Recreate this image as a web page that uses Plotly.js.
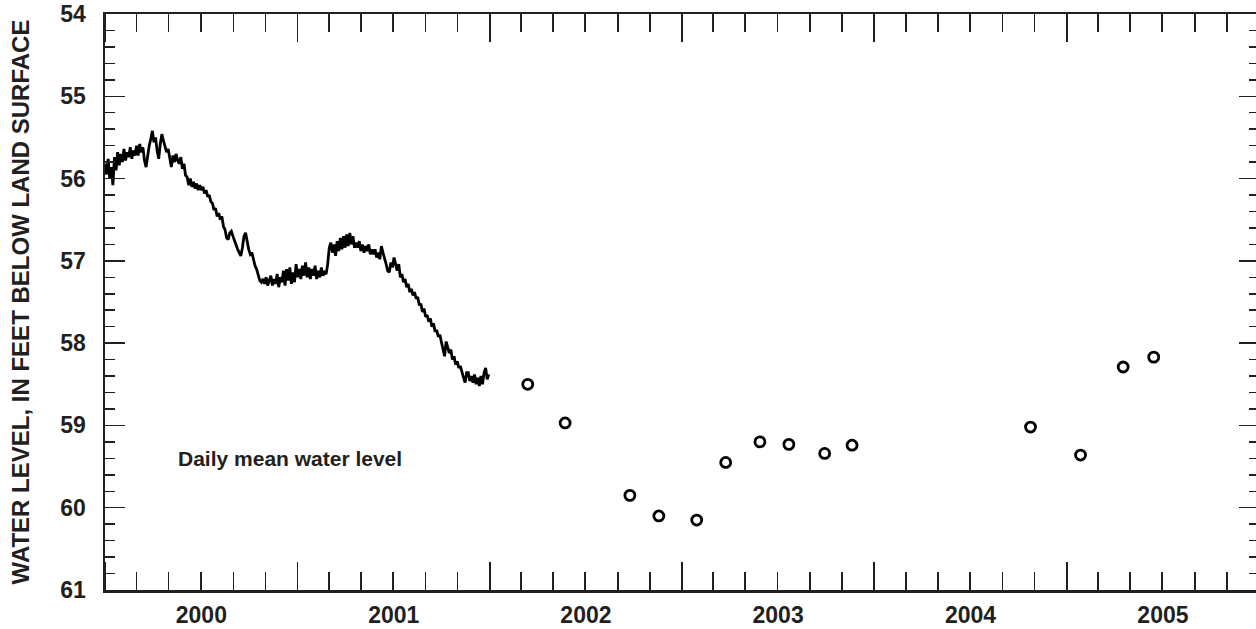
<!DOCTYPE html>
<html><head><meta charset="utf-8">
<script src="https://cdn.plot.ly/plotly-3.0.1.min.js"></script>
<style>html,body{margin:0;padding:0;overflow:hidden;background:#fff}</style>
</head><body><div id="chart" style="width:1259px;height:629px"></div>
<script>
// Daily mean water level (feet below land surface), one reading every 3 days starting 2000-01-01
const dailyStart = '2000-01-01';
const dailyStepDays = 3;
const dailyLevel = [
  55.82,55.95,55.76,56.00,55.86,56.08,55.74,55.90,55.68,55.84,
  55.70,55.80,55.64,55.78,55.68,55.74,55.62,55.76,55.66,55.72,
  55.60,55.72,55.58,55.68,55.62,55.78,55.86,55.70,55.60,55.52,
  55.42,55.56,55.50,55.66,55.76,55.58,55.46,55.54,55.62,55.68,
  55.64,55.74,55.86,55.72,55.80,55.70,55.78,55.82,55.74,55.88,
  55.82,55.96,55.98,56.08,56.00,56.10,56.04,56.12,56.06,56.14,
  56.08,56.14,56.10,56.18,56.14,56.22,56.20,56.28,56.30,56.38,
  56.36,56.46,56.42,56.50,56.46,56.58,56.62,56.72,56.74,56.66,
  56.64,56.70,56.76,56.80,56.86,56.90,56.94,56.84,56.70,56.66,
  56.78,56.86,56.92,56.90,56.98,57.06,57.10,57.16,57.24,57.26,
  57.22,57.28,57.20,57.30,57.24,57.18,57.30,57.22,57.28,57.16,
  57.32,57.20,57.26,57.12,57.30,57.10,57.24,57.08,57.28,57.14,
  57.26,57.04,57.20,57.10,57.22,57.06,57.18,57.02,57.20,57.08,
  57.22,57.10,57.18,57.06,57.22,57.12,57.20,57.08,57.18,57.14,
  57.16,57.04,56.84,56.78,56.90,56.80,56.94,56.76,56.88,56.72,
  56.86,56.70,56.84,56.68,56.82,56.66,56.80,56.70,56.84,56.78,
  56.84,56.76,56.88,56.80,56.90,56.82,56.88,56.80,56.92,56.86,
  56.92,56.86,56.96,56.90,56.98,56.82,56.90,56.96,57.04,57.12,
  57.14,57.02,57.08,56.96,57.06,57.12,57.04,57.20,57.16,57.26,
  57.22,57.32,57.28,57.38,57.34,57.42,57.38,57.46,57.44,57.54,
  57.52,57.62,57.58,57.68,57.66,57.74,57.70,57.80,57.76,57.86,
  57.84,57.92,57.90,58.00,58.10,58.16,57.98,58.04,58.12,58.08,
  58.20,58.16,58.26,58.22,58.30,58.28,58.36,58.42,58.48,58.36,
  58.36,58.46,58.40,58.48,58.38,58.50,58.42,58.52,58.40,58.50,
  58.36,58.30,58.44,58.38
];
// Periodic measurements
const measuredDates = ['2002-03-14','2002-05-24','2002-09-24','2002-11-18','2003-01-29','2003-03-25',
  '2003-05-29','2003-07-23','2003-09-29','2003-11-20','2004-10-24','2005-01-27','2005-04-18','2005-06-15'];
const measuredLevel = [58.50,58.97,59.85,60.10,60.15,59.45,59.20,59.23,59.34,59.24,59.02,59.36,58.29,58.17];

const yTitle = 'WATER LEVEL, IN FEET BELOW LAND SURFACE';
const labelText = 'Daily mean water level';

const startMs = Date.parse(dailyStart + 'T00:00:00Z');
const dailyDates = dailyLevel.map((_, i) =>
  new Date(startMs + i * dailyStepDays * 86400000).toISOString().slice(0, 10));

const ink = '#231f20';
const fam = 'Arial, "Liberation Sans", sans-serif';
const font = {family: fam, size: 23, color: ink, weight: 'bold'};

const traces = [
  {x: dailyDates, y: dailyLevel, type: 'scatter', mode: 'lines',
   line: {color: '#000', width: 2.8}, name: 'Daily mean', showlegend: false},
  {x: measuredDates, y: measuredLevel, type: 'scatter', mode: 'markers',
   marker: {symbol: 'circle-open', size: 10, color: '#000', line: {width: 2.8, color: '#000'}},
   name: 'Measured', showlegend: false}
];

const layout = {
  width: 1259, height: 629,
  margin: {l: 105, r: 0, t: 14, b: 39},
  paper_bgcolor: '#fff', plot_bgcolor: '#fff',
  font: font,
  xaxis: {
    type: 'date', range: ['2000-01-01', '2006-01-01'],
    tick0: '2000-01-01', dtick: 'M12', tickformat: '%Y', ticklabelmode: 'period',
    ticks: 'inside', ticklen: 28, tickwidth: 1.5, tickcolor: ink,
    minor: {dtick: 'M2', ticks: 'inside', ticklen: 18, tickwidth: 1.5, tickcolor: ink, showgrid: false},
    showline: true, linecolor: ink, linewidth: 2.5, mirror: 'ticks',
    showgrid: false, zeroline: false, tickfont: font, ticklabelstandoff: 3
  },
  yaxis: {
    range: [61, 54], tick0: 54, dtick: 1,
    ticks: 'inside', ticklen: 20, tickwidth: 1.5, tickcolor: ink,
    minor: {dtick: 0.2, ticks: 'inside', ticklen: 10, tickwidth: 1.5, tickcolor: ink, showgrid: false},
    showline: true, linecolor: ink, linewidth: 2.5, mirror: 'ticks',
    showgrid: false, zeroline: false, tickfont: font, ticklabelstandoff: 12,
    title: {text: yTitle, font: {family: fam, size: 24, color: ink, weight: 'bold'}, standoff: 24}
  },
  annotations: [{
    x: '2000-05-14', y: 59.4, xref: 'x', yref: 'y', xanchor: 'left', yanchor: 'middle',
    text: labelText, showarrow: false, font: {family: fam, size: 21, color: ink, weight: 'bold'}
  }]
};

Plotly.newPlot('chart', traces, layout, {displayModeBar: false, staticPlot: true});
</script></body></html>
